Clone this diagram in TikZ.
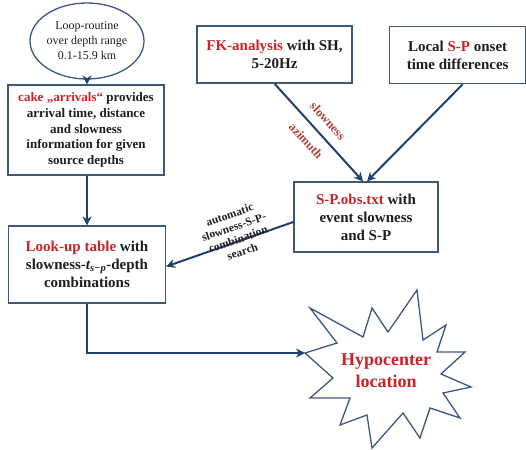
\documentclass[tikz,border=0pt]{standalone}
\usepackage{fontspec}
\setmainfont{Liberation Serif}
\usetikzlibrary{arrows.meta,shapes.geometric,calc}
\definecolor{boxline}{RGB}{62,88,125}
\definecolor{conn}{RGB}{32,64,112}
\definecolor{hired}{RGB}{204,34,40}
\definecolor{lblred}{RGB}{178,66,62}
\definecolor{txt}{RGB}{30,30,30}
\tikzset{
  box/.style={draw=boxline,line width=1.3pt,fill=white,align=center,text=txt,font=\bfseries,inner sep=2pt},
  conarrow/.style={draw=conn,line width=2pt,-{Stealth[length=9pt,width=9pt,inset=3pt]}},
  lbl/.style={text=lblred,font=\bfseries\fontsize{12.5}{14}\selectfont},
}
\newcommand{\hl}[1]{\textcolor{hired}{#1}}
\begin{document}
\begin{tikzpicture}[x=1pt,y=-1pt]
\useasboundingbox (0,0) rectangle (526,449);
% nodes
\node[ellipse,draw=boxline,line width=1.3pt,minimum width=82pt,minimum height=76pt,inner sep=0pt,align=center,text=txt,font=\fontsize{12}{15}\selectfont] (loop) at (87,41) {Loop-routine\\over depth range\\0.1-15.9 km};
\node[box,minimum width=156pt,minimum height=90pt,font=\bfseries\fontsize{13}{15.7}\selectfont] (cake) at (86,130)
  {\hl{cake „arrivals“} provides\\arrival time, distance\\and slowness\\information for given\\source depths};
\node[box,minimum width=157pt,minimum height=77pt,font=\bfseries\fontsize{15}{18}\selectfont] (lookup) at (87,264.5)
  {\hl{Look-up table} with\\slowness-{\itshape t}\textsubscript{\itshape s−p}-depth\\combinations};
\node[box,minimum width=155pt,minimum height=57pt,font=\bfseries\fontsize{15}{18}\selectfont] (fk) at (274.5,54.5)
  {\hl{FK-analysis} with SH,\\5-20Hz};
\node[box,minimum width=136pt,minimum height=57pt,font=\bfseries\fontsize{15}{18}\selectfont,anchor=north west] (local) at (389,26)
  {Local \hl{S-P} onset\\time differences};
\node[box,minimum width=144pt,minimum height=70pt,font=\bfseries\fontsize{15}{18}\selectfont] (spobs) at (366,217)
  {\hl{S-P.obs.txt} with\\event slowness\\and S-P};
% star
\draw[draw=boxline,line width=1.3pt,fill=white]
  (305,353) coordinate (starL) -- (337,343) -- (310,308) -- (363,337) -- (372,308) -- (388,332)
  -- (417,290) -- (423,340) -- (446,325) -- (437,352) -- (465,352) -- (441,374)
  -- (471,387) -- (443,393) -- (460,418) -- (430,408) -- (420,438) -- (403,413)
  -- (372,448) -- (367,415) -- (340,425) -- (350,398) -- (310,398) -- (333,378) -- cycle;
\node[text=hired,align=center,font=\bfseries\fontsize{18}{22}\selectfont] (hypo) at (386,371) {Hypocenter\\location};
% connectors
\draw[conarrow] (loop.south) -- (cake.north -| loop.south);
\draw[conarrow] (cake.south -| lookup.north) -- (lookup.north);
\draw[conarrow] (fk.south) -- ([xshift=-3pt]spobs.north);
\draw[conarrow] ([xshift=5pt]local.south) -- ([xshift=1pt]spobs.north);
\draw[conarrow] ([yshift=-5pt]spobs.west) -- ([yshift=-2pt]lookup.east);
\draw[conarrow] (lookup.south) |- (starL);
% labels
\node[lbl,rotate=-48] (lslow) at (328,121) {slowness};
\node[lbl,rotate=-48] (lazi) at (306,141) {azimuth};
\node[align=center,rotate=19,text=txt,font=\bfseries\fontsize{11.5}{13}\selectfont] (auto) at (236,233)
  {automatic\\slowness-S-P-\\combination\\search};
\end{tikzpicture}
\end{document}
